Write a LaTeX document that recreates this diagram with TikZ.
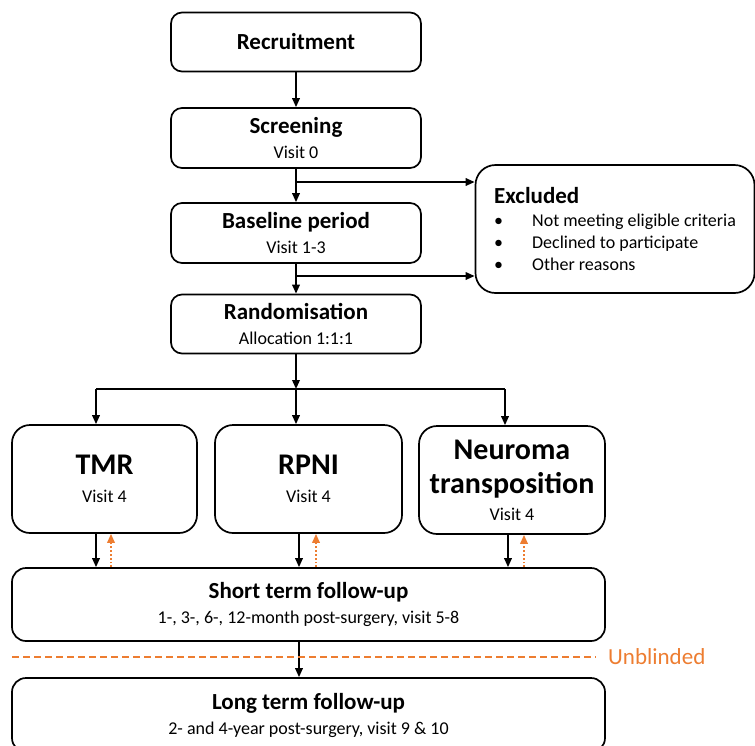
\documentclass[tikz,border=0pt]{standalone}
\usepackage{fontspec}
\setmainfont{Carlito}
\usepackage{xcolor}
\usetikzlibrary{positioning, arrows.meta}

\definecolor{unblind}{HTML}{ED7D31}
\newcommand{\boxtitle}{\fontsize{23}{25}\selectfont\bfseries}
\newcommand{\boxsub}{\normalfont\fontsize{18}{25}\selectfont}
\newcommand{\armtitle}{\fontsize{30}{25}\selectfont\bfseries}

\begin{document}
\begin{tikzpicture}[x=1pt,y=-1pt]
	\tikzstyle{stage}=[draw=black, line width=1.7pt, rounded corners=11pt, align=center, minimum width=250pt, minimum height=59pt, inner sep=0pt, font=\boxsub]
	\tikzstyle{arm}=[stage, rounded corners=18pt, minimum height=108pt]
	\tikzstyle{flow}=[-{Triangle[length=9pt,width=7.5pt]}, line width=1.8pt]
	\tikzstyle{back}=[-{Triangle[length=9pt,width=7.5pt]}, line width=1.8pt, color=unblind, dotted]
	\useasboundingbox (0,0) rectangle (755,745);
	\clip (0,0) rectangle (755,745);
	% main column
	\node[stage](recruit) at (296,42) {\boxtitle Recruitment};
	\node[stage, minimum height=60pt](screen) at (296,138) {\boxtitle Screening\\Visit 0};
	\node[stage, minimum height=60pt](baseline) at (296,233) {\boxtitle Baseline period\\Visit 1-3};
	\node[stage](random) at (296,324) {\boxtitle Randomisation\\Allocation 1:1:1};
	\node[stage, rounded corners=20pt, minimum width=279pt, minimum height=128pt, align=left, font=\normalfont\fontsize{18}{22}\selectfont](excluded) at (615,229)
		{\boxtitle Excluded\\[1pt]
		\makebox[38pt][l]{\textbullet}Not meeting eligible criteria\\
		\makebox[38pt][l]{\textbullet}Declined to participate\\
		\makebox[38pt][l]{\textbullet}Other reasons};
	% arms
	\node[arm, minimum width=185pt](tmr) at (104.5,479) {\armtitle TMR\\[3pt]Visit 4};
	\node[arm, minimum width=187pt](rpni) at (308.5,479) {\armtitle RPNI\\[3pt]Visit 4};
	\node[arm, minimum width=186pt](neuroma) at (512,480) {\armtitle Neuroma\\[9pt]\armtitle transposition\\[2pt]Visit 4};
	% follow-up
	\node[stage, rounded corners=14pt, minimum width=593pt, minimum height=73pt](short) at (308.5,604.5)
		{\boxtitle Short term follow-up\\1-, 3-, 6-, 12-month post-surgery, visit 5-8};
	\node[stage, rounded corners=14pt, minimum width=593pt, minimum height=74pt](long) at (308.5,715)
		{\boxtitle Long term follow-up\\2- and 4-year post-surgery, visit 9 \& 10};
	\node[anchor=west, inner sep=0pt, text=unblind, font=\fontsize{23}{25}\selectfont](unblinded) at (608,657) {Unblinded};
	\coordinate (ex1) at (296,182);
	\coordinate (ex2) at (296,276);
	\coordinate (split) at (296,389);
	\coordinate (tmrin) at (96,389);
	\coordinate (neuin) at (505,389);
	\coordinate (blind) at (12,657);
	% connectors
	\draw[flow] (recruit) -- (screen);
	\draw[flow] (screen) -- (baseline);
	\draw[flow] (baseline) -- (random);
	\draw[flow] (ex1) -- (ex1 -| excluded.west);
	\draw[flow] (ex2) -- (ex2 -| excluded.west);
	\draw[flow] (random) -- (split);
	\draw[line width=1.8pt] (tmrin) -- (neuin);
	\draw[flow] (tmrin) -- (tmrin |- tmr.north);
	\draw[flow] (split) -- (split |- rpni.north);
	\draw[flow] (neuin) -- (neuin |- neuroma.north);
	\draw[flow] ([xshift=-8.5pt]tmr.south) -- ([xshift=-8.5pt]tmr.south |- short.north);
	\draw[flow] ([xshift=-9.5pt]rpni.south) -- ([xshift=-9.5pt]rpni.south |- short.north);
	\draw[flow] ([xshift=-4pt]neuroma.south) -- ([xshift=-4pt]neuroma.south |- short.north);
	\draw[back] ([xshift=6.5pt]tmr.south |- short.north) -- ([xshift=6.5pt]tmr.south);
	\draw[back] ([xshift=7.5pt]rpni.south |- short.north) -- ([xshift=7.5pt]rpni.south);
	\draw[back] ([xshift=12pt]neuroma.south |- short.north) -- ([xshift=12pt]neuroma.south);
	\draw[flow] ([xshift=-9.5pt]short.south) -- ([xshift=-9.5pt]long.north);
	\draw[unblind, line width=1.8pt, dash pattern=on 7pt off 4pt] (blind) -- ([xshift=-12pt]unblinded.west);
\end{tikzpicture}
\end{document}
